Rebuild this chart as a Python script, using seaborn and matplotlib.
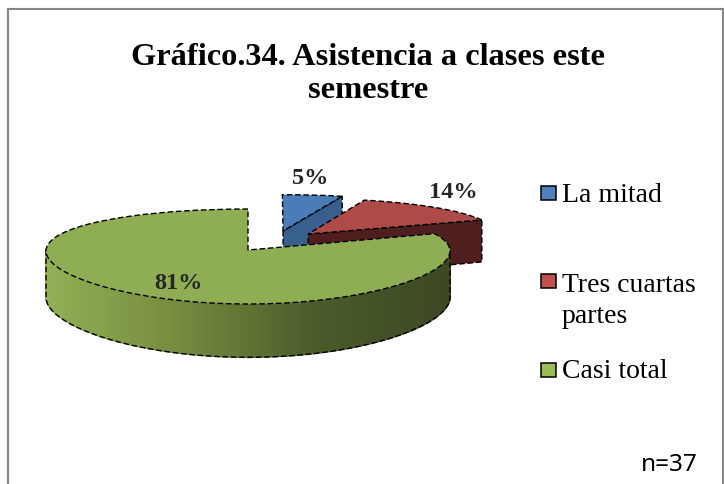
import numpy as np
import matplotlib
matplotlib.use("Agg")
import matplotlib.pyplot as plt
import seaborn as sns
from matplotlib.patches import Rectangle
from matplotlib.transforms import Transform

# data
categorias = ["La mitad", "Tres cuartas\npartes", "Casi total"]
valores = [5, 14, 81]
titulo = "Gráfico.34. Asistencia a clases este\nsemestre"
nota = "n=37"

# estilos
color_top = ["#4a7db8", "#ae4a47", "#8fae53"]
color_lado = ["#38608f", "#4e1f1e"]
color_leyenda = ["#4f81bd", "#c0504d", "#9bbb59"]
separacion = [(0.175, 0.432), (0.30, 0.36), (0, 0)]
radios = [0.985, 0.94, 1.0]
pos_pct = [(310, 179), (453, 193), (178, 284)]
pos_ley = [193.5, 282, 370.5]
pos_txt = [196, 301, 372]

sns.set_theme(style="white")
plt.rcParams["font.family"] = ["Liberation Serif", "DejaVu Sans"]

CX, CY, A, B, D = 248, 251, 202, 46.6, 46
P, Q = 0.137, 0.02


def proyecta(x, y, prof=0.0):
    x = np.asarray(x, float)
    y = np.asarray(y, float)
    f = 1 + P * y
    return CX + A * x / (1 + Q * y), CY - B * y / f + prof * D / f


class Perspectiva(Transform):
    input_dims = 2
    output_dims = 2

    def transform_non_affine(self, xy):
        xy = np.asarray(xy, float)
        return np.column_stack(proyecta(xy[:, 0], xy[:, 1]))


fig = plt.figure(figsize=(7.24, 4.85), dpi=100)
ax = fig.add_axes([0, 0, 1, 1])
wedges, _ = ax.pie(valores, startangle=90, counterclock=False, colors=color_top)
ax.set_aspect("auto")
ax.set_xlim(0, 724)
ax.set_ylim(485, 0)
ax.axis("off")

ax.add_patch(Rectangle((8, 10), 715, 490, fc="white", ec="#868686", lw=1.5, zorder=0))

dash = (0, (4, 2))
trans = Perspectiva() + ax.transData
cmap = sns.blend_palette(["#93b055", "#748a3e", "#4a5b2a", "#3c4822"], as_cmap=True)

for i, w in enumerate(wedges):
    z = 2 + 2 * i
    w.set_center(separacion[i])
    w.set_radius(radios[i])
    w.set_transform(trans)
    w.set_clip_on(False)
    w.set_edgecolor("black")
    w.set_linewidth(1.0)
    w.set_linestyle(dash)
    w.set_zorder(z + 1)
    ox, oy = separacion[i]
    r = radios[i]
    if i < 2:
        # cara frontal del corte
        t = np.radians(w.theta1)
        xs = np.array([ox, ox + r * np.cos(t)])
        ys = np.array([oy, oy + r * np.sin(t)])
        x0, y0 = proyecta(xs, ys)
        x1, y1 = proyecta(xs, ys, 1)
        px = [x0[0], x0[1], x1[1], x1[0]]
        py = [y0[0], y0[1], y1[1], y1[0]]
        ax.fill(px, py, color=color_lado[i], zorder=z, lw=0)
        ax.plot(px + px[:1], py + py[:1], color="black", lw=1.0, ls=dash, zorder=z)
    else:
        # pared curva con degradado
        ts = np.radians(np.linspace(-180, 0, 160))
        x0, y0 = proyecta(r * np.cos(ts), r * np.sin(ts))
        x1, y1 = proyecta(r * np.cos(ts), r * np.sin(ts), 1)
        for j in range(len(ts) - 1):
            c = cmap((x0[j] - x0.min()) / (x0.max() - x0.min()))
            ax.fill([x0[j], x0[j + 1], x1[j + 1], x1[j]],
                    [y0[j], y0[j + 1], y1[j + 1], y1[j]], color=c, lw=1.0, zorder=z)
        ax.plot(np.r_[x0[0], x1, x0[-1]], np.r_[y0[0], y1, y0[-1]],
                color="black", lw=1.0, ls=dash, zorder=z + 0.5)

for v, (x, y) in zip(valores, pos_pct):
    ax.text(x, y, f"{v}%", fontsize=17.5, fontweight="bold", ha="center", va="center", zorder=10)

ax.text(368, 74, titulo, fontsize=23.3, fontweight="bold", ha="center", va="center",
        linespacing=1.18, color="black")

for etiqueta, c, ys, yt in zip(categorias, color_leyenda, pos_ley, pos_txt):
    ax.add_patch(Rectangle((541, ys - 7), 15, 14, fc=c, ec="black", lw=1.1))
    ax.text(562, yt, etiqueta, fontsize=20, ha="left", va="center", linespacing=1.3, color="black")

ax.text(669, 465, nota, fontsize=17.5, family="Noto Sans", ha="center", va="center", color="black")

fig.savefig("out.png", dpi=100)
